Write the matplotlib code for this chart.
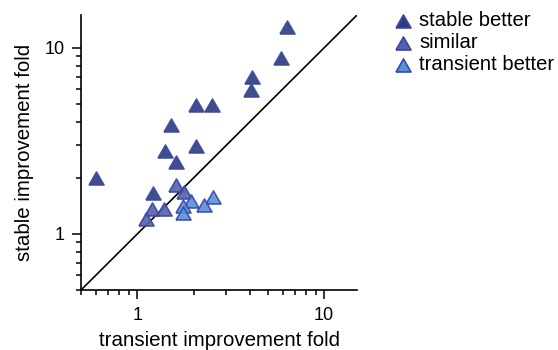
import matplotlib
matplotlib.use("Agg")
import matplotlib.pyplot as plt
from matplotlib.ticker import NullFormatter, FixedLocator, FixedFormatter

plt.rcParams['font.family'] = ['Liberation Sans', 'DejaVu Sans']

# transient vs stable improvement fold, grouped by which condition performs better
stable_better_x = [6.34, 5.9, 4.1, 4.07, 2.05, 2.52, 1.52, 2.05, 1.41, 1.62, 0.603, 1.22]
stable_better_y = [12.9, 8.85, 6.97, 5.92, 4.94, 4.94, 3.87, 2.96, 2.79, 2.43, 2.0, 1.65]

similar_x = [1.61, 1.77, 1.20, 1.39, 1.11]
similar_y = [1.83, 1.68, 1.37, 1.37, 1.21]

transient_better_x = [1.94, 2.54, 2.29, 1.75, 1.75]
transient_better_y = [1.50, 1.58, 1.43, 1.41, 1.30]

group_labels = ["stable better", "similar", "transient better"]
fill_colors = ["#2b3b84", "#5560b0", "#5a8fda"]
edge_colors = ["#3b4a99", "#3a46a0", "#3848a8"]

axis_lim = (0.5, 15)

# equilateral triangle, centred at mid-height
tri = [(-1, -0.866), (1, -0.866), (0, 0.866), (-1, -0.866)]
ms = 10.8

fig = plt.figure(figsize=(5.58, 3.5), dpi=100)
ax = fig.add_axes([0.1452, 0.1714, 0.6398 - 0.1452, 0.957 - 0.1714])

ax.plot(axis_lim, axis_lim, color="black", lw=1.2, zorder=1)

groups = [(stable_better_x, stable_better_y),
          (similar_x, similar_y),
          (transient_better_x, transient_better_y)]
for (gx, gy), fc, ec in zip(groups, fill_colors, edge_colors):
    ax.plot(gx, gy, linestyle="none", marker=tri, ms=ms,
            markerfacecolor=fc, markeredgecolor=ec, markeredgewidth=1.2,
            alpha=0.9, zorder=3)

ax.set_xscale("log")
ax.set_yscale("log")
ax.set_xlim(*axis_lim)
ax.set_ylim(*axis_lim)

for axis in (ax.xaxis, ax.yaxis):
    axis.set_major_locator(FixedLocator([1, 10]))
    axis.set_major_formatter(FixedFormatter(["1", "10"]))
    axis.set_minor_locator(FixedLocator([0.5, 0.6, 0.7, 0.8, 0.9,
                                         2, 3, 4, 5, 6, 7, 8, 9]))
    axis.set_minor_formatter(NullFormatter())

ax.tick_params(which="major", length=6.5, width=1.1, labelsize=13, direction="out")
ax.tick_params(which="minor", length=3.8, width=1.1, direction="out")
ax.tick_params(axis="x", which="major", pad=6)
ax.tick_params(axis="y", which="major", pad=5)
for s in ("top", "right"):
    ax.spines[s].set_visible(False)
for s in ("left", "bottom"):
    ax.spines[s].set_linewidth(1.2)

ax.set_xlabel("transient improvement fold", fontsize=14.8, labelpad=5)
ax.set_ylabel("stable improvement fold", fontsize=14.8, labelpad=8)

# legend drawn in figure coordinates
W, H = 558, 350
rows_y = [21, 43, 65]
for label, fc, ec, ry in zip(group_labels, fill_colors, edge_colors, rows_y):
    fig.lines.append(plt.Line2D([403 / W], [1 - ry / H], transform=fig.transFigure,
                                linestyle="none", marker=tri, ms=ms,
                                markerfacecolor=fc, markeredgecolor=ec,
                                markeredgewidth=1.2))
    fig.text(419 / W, 1 - ry / H, label, fontsize=14.6, va="center", ha="left")

fig.savefig("out.png", dpi=100)
